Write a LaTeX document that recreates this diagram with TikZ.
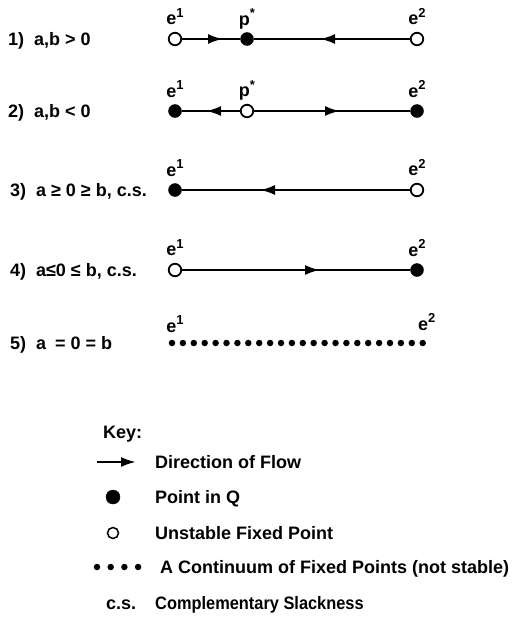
\documentclass[tikz,border=0pt]{standalone}
\usepackage{fontspec}
\setmainfont{Liberation Sans}
\usetikzlibrary{positioning,arrows.meta}
\tikzset{
  seg/.style={line width=2.3pt,draw=black},
  flowtip/.style={seg,-{Latex[length=15pt,width=10pt]}},
  inQ/.style={circle,fill=black,draw=black,inner sep=0pt,minimum size=13pt},
  unstable/.style={circle,fill=white,draw=black,line width=1.8pt,inner sep=0pt,minimum size=12.5pt},
  contdot/.style={circle,fill=black,inner sep=0pt,minimum size=6.5pt},
  ptlabel/.style={font=\fontsize{18}{20}\selectfont\bfseries,inner sep=0pt,text depth=0pt},
  rowlabel/.style={anchor=base west,inner sep=0pt,font=\fontsize{18}{20}\selectfont\bfseries},
  keytext/.style={anchor=base west,inner sep=0pt,font=\fontsize{18}{20}\selectfont\bfseries}
}
\newcommand{\supsm}[1]{\raisebox{0.42em}{\fontsize{13}{13}\selectfont#1}}
\newcommand{\eone}{e\supsm{1}}
\newcommand{\etwo}{e\supsm{2}}
\newcommand{\pstar}{p\supsm{*}}
\begin{document}
\begin{tikzpicture}[x=1pt,y=-1pt]
  \useasboundingbox (0,0) rectangle (522,629);
  % 1) a,b > 0
  \node[rowlabel] (lab1) at (8,45.5) {1)\hspace{0.55em}a,b > 0};
  \node[unstable] (r1e1) at (175,39) {};
  \node[inQ] (r1p) at (247,39) {};
  \node[unstable] (r1e2) at (417,39) {};
  \coordinate (r1t1) at (223,39);
  \coordinate (r1t2) at (320,39);
  \draw[seg] (r1e1) -- (r1p) -- (r1e2);
  \draw[flowtip] (r1e1) -- (r1t1);
  \draw[flowtip] (r1e2) -- (r1t2);
  \node[ptlabel,above=7pt of r1e1] {\eone};
  \node[ptlabel,above=7pt of r1p] {\pstar};
  \node[ptlabel,above=7pt of r1e2] {\etwo};
  % 2) a,b < 0
  \node[rowlabel] (lab2) at (8,117.5) {2)\hspace{0.55em}a,b < 0};
  \node[inQ] (r2e1) at (175,111) {};
  \node[unstable] (r2p) at (247,111) {};
  \node[inQ] (r2e2) at (417,111) {};
  \coordinate (r2t1) at (206,111);
  \coordinate (r2t2) at (340,111);
  \draw[seg] (r2e1) -- (r2p) -- (r2e2);
  \draw[flowtip] (r2p) -- (r2t1);
  \draw[flowtip] (r2p) -- (r2t2);
  \node[ptlabel,above=7pt of r2e1] {\eone};
  \node[ptlabel,above=7pt of r2p] {\pstar};
  \node[ptlabel,above=7pt of r2e2] {\etwo};
  % 3) a >= 0 >= b
  \node[rowlabel] (lab3) at (10,196.5) {3)\hspace{0.55em}a ≥ 0 ≥ b, c.s.};
  \node[inQ] (r3e1) at (175,190) {};
  \node[unstable] (r3e2) at (417,190) {};
  \coordinate (r3t) at (260,190);
  \draw[seg] (r3e1) -- (r3e2);
  \draw[flowtip] (r3e2) -- (r3t);
  \node[ptlabel,above=7pt of r3e1] {\eone};
  \node[ptlabel,above=7pt of r3e2] {\etwo};
  % 4) a <= 0 <= b
  \node[rowlabel] (lab4) at (10,276.5) {4)\hspace{0.55em}a≤0 ≤ b, c.s.};
  \node[unstable] (r4e1) at (175,270) {};
  \node[inQ] (r4e2) at (417,270) {};
  \coordinate (r4t) at (320,270);
  \draw[seg] (r4e1) -- (r4e2);
  \draw[flowtip] (r4e1) -- (r4t);
  \node[ptlabel,above=7pt of r4e1] {\eone};
  \node[ptlabel,above=7pt of r4e2] {\etwo};
  % 5) a = 0 = b
  \node[rowlabel] (lab5) at (10,349.5) {5)\hspace{0.55em}a\hspace{0.5em}= 0 = b};
  \foreach \i in {0,...,23}
    \node[contdot] (r5d\i) at ({172+\i*10.9},343) {};
  \node[ptlabel,above=7pt of r5d0,xshift=3pt] {\eone};
  \node[ptlabel,above=9pt of r5d23,xshift=4pt] {\etwo};
  % key
  \node[keytext] (key) at (103,438) {Key:};
  \coordinate (kflowS) at (97,462);
  \coordinate (kflowE) at (136,462);
  \draw[flowtip] (kflowS) -- (kflowE);
  \node[keytext] (kflow) at (155,468.5) {Direction of Flow};
  \node[inQ,minimum size=14pt] (kq) at (113,497) {};
  \node[keytext] (kqt) at (155,503.5) {Point in Q};
  \node[unstable,minimum size=11pt,line width=1.5pt] (kun) at (113,533) {};
  \node[keytext] (kunt) at (155,539.5) {Unstable Fixed Point};
  \foreach \i in {0,...,3}
    \node[contdot] (kd\i) at ({97+\i*13.7},567) {};
  \node[keytext] (kdt) at (160,573.5) {A Continuum of Fixed Points (not stable)};
  \node[keytext] (kcs) at (106,609.5) {c.s.};
  \node[keytext] (kcst) at (155,609.5) {\scalebox{0.91}[1]{Complementary Slackness}};
\end{tikzpicture}
\end{document}
